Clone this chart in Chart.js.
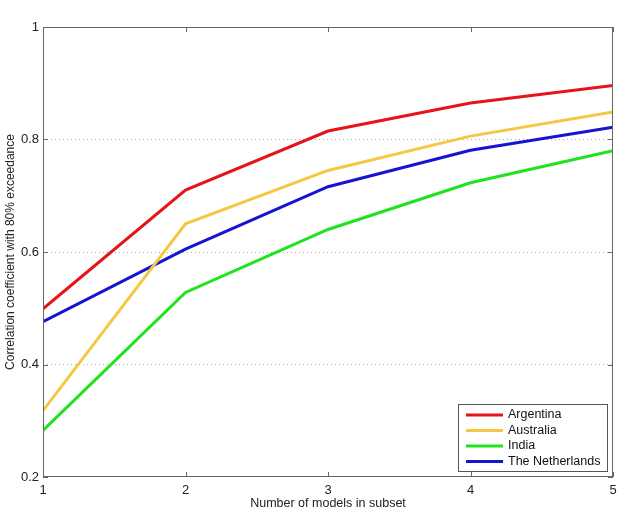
<!DOCTYPE html>
<html><head><meta charset="utf-8">
<script src="https://cdn.jsdelivr.net/npm/chart.js@4"></script>
<style>html,body{margin:0;padding:0;background:#fff}#wrap{width:627px;height:515px}</style>
</head><body><div id="wrap"><canvas id="c" width="627" height="515"></canvas></div>
<script>
const xValues = [1, 2, 3, 4, 5];
const argentina = [0.499, 0.710, 0.815, 0.865, 0.896];
const australia = [0.318, 0.650, 0.745, 0.806, 0.849];
const india = [0.283, 0.528, 0.640, 0.723, 0.780];
const netherlands = [0.476, 0.605, 0.716, 0.781, 0.822];
const seriesNames = ['Argentina', 'Australia', 'India', 'The Netherlands'];
const yTickLabels = {0.2: '0.2', 0.4: '0.4', 0.6: '0.6', 0.8: '0.8', 1: '1'};
const xTitle = 'Number of models in subset';
const yTitle = 'Correlation coefficient with 80% exceedance';

const colors = ['#e51419', '#f5c843', '#1ee41e', '#1414d2'];
const toPts = arr => arr.map((v, i) => ({x: xValues[i], y: v}));
const FONT = '"Liberation Sans", Arial, sans-serif';

const framePlugin = {
  id: 'frame',
  afterDatasetsDraw(chart) {
    const {ctx, chartArea: a, scales: {x, y}} = chart;
    ctx.save();
    ctx.strokeStyle = '#666';
    ctx.lineWidth = 1;
    ctx.strokeRect(a.left + 0.5, a.top + 0.5, a.right - a.left - 1, a.bottom - a.top - 1);
    ctx.beginPath();
    xValues.forEach(v => {
      const px = Math.round(x.getPixelForValue(v)) + 0.5;
      ctx.moveTo(px, a.bottom); ctx.lineTo(px, a.bottom - 5);
      ctx.moveTo(px, a.top); ctx.lineTo(px, a.top + 5);
    });
    Object.keys(yTickLabels).forEach(k => {
      const py = Math.round(y.getPixelForValue(+k)) + 0.5;
      ctx.moveTo(a.left, py); ctx.lineTo(a.left + 5, py);
      ctx.moveTo(a.right, py); ctx.lineTo(a.right - 5, py);
    });
    ctx.stroke();
    const lx = 458, ly = 404, lw = 149, lh = 67;
    ctx.fillStyle = '#fff';
    ctx.fillRect(lx, ly, lw, lh);
    ctx.strokeStyle = '#555';
    ctx.strokeRect(lx + 0.5, ly + 0.5, lw, lh);
    ctx.font = '12.5px ' + FONT;
    ctx.textBaseline = 'middle';
    ctx.textAlign = 'left';
    chart.data.datasets.forEach((ds, i) => {
      const cy = ly + 11 + i * 15.5;
      ctx.strokeStyle = ds.borderColor;
      ctx.lineWidth = 3;
      ctx.beginPath();
      ctx.moveTo(lx + 8, cy); ctx.lineTo(lx + 45, cy);
      ctx.stroke();
      ctx.fillStyle = '#111';
      ctx.fillText(ds.label, lx + 50, cy);
    });
    ctx.restore();
  }
};

new Chart(document.getElementById('c'), {
  type: 'line',
  data: {
    datasets: [argentina, australia, india, netherlands].map((d, i) => ({
      label: seriesNames[i],
      data: toPts(d),
      borderColor: colors[i],
      backgroundColor: colors[i],
      borderWidth: 3,
      pointRadius: 0,
      tension: 0,
      fill: false
    }))
  },
  options: {
    responsive: false,
    animation: false,
    layout: {padding: {top: 27, right: 14, left: 3, bottom: 0}},
    plugins: {legend: {display: false}, tooltip: {enabled: false}},
    scales: {
      x: {
        type: 'linear', min: 1, max: 5,
        afterFit(s) { s.height = 38; },
        grid: {display: false, drawTicks: false},
        border: {display: false},
        ticks: {stepSize: 1, color: '#222', font: {family: FONT, size: 13}, padding: 6, maxRotation: 0,
          callback: v => String(v)},
        title: {display: true, text: xTitle, color: '#222', font: {family: FONT, size: 12.5}, padding: {top: 0, bottom: 4}}
      },
      y: {
        min: 0.2, max: 1,
        afterFit(s) { s.width = 40; },
        border: {display: false, dash: [1, 3]},
        grid: {drawTicks: false,
          color: c => (Math.abs(c.tick.value - 0.2) < 1e-6 || Math.abs(c.tick.value - 1) < 1e-6) ? 'rgba(0,0,0,0)' : '#aaa',
          lineWidth: 1},
        ticks: {stepSize: 0.2, color: '#222', font: {family: FONT, size: 13}, padding: 4,
          callback: v => yTickLabels[(+v).toFixed(1).replace(/\.0$/, '')] || ''},
        title: {display: true, text: yTitle, color: '#222', font: {family: FONT, size: 12}, padding: {top: 0, bottom: 0}}
      }
    }
  },
  plugins: [framePlugin]
});
</script></body></html>
